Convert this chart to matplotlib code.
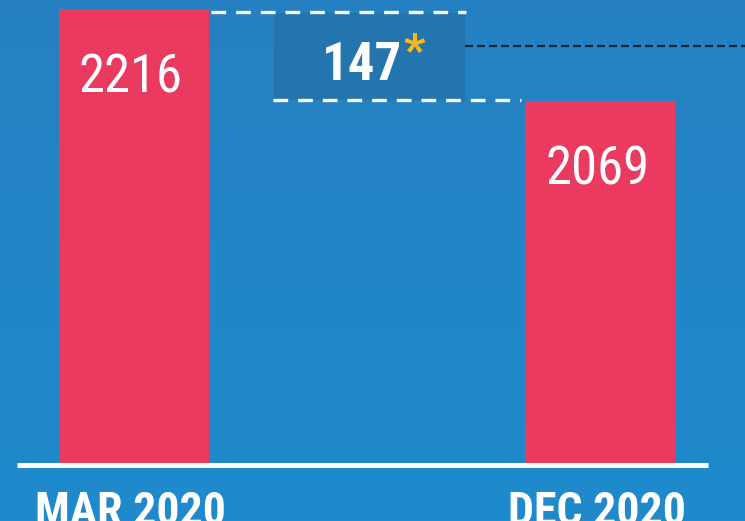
import numpy as np
import matplotlib
matplotlib.use("Agg")
import matplotlib.pyplot as plt
from matplotlib.colors import LinearSegmentedColormap
from matplotlib import font_manager

# ---- data ----
categories = ["MAR 2020", "DEC 2020"]
values = [2216, 2069]
difference_label = "147"

# ---- style ----
BG_TOP = "#2680C1"
BG_BOTTOM = "#1E8BCC"
BAR = "#EA3A60"
BOX = "#2475AE"
STAR = "#FDB913"

names = {f.name for f in font_manager.fontManager.ttflist}
cond = [n for n in ["Roboto Condensed", "Liberation Sans Narrow", "Open Sans Condensed"] if n in names]
FONT = cond + ["Roboto", "DejaVu Sans"]
is_cond = bool(cond)

fig = plt.figure(figsize=(7.45, 5.21), dpi=100)
ax = fig.add_axes([0, 0, 1, 1])
ax.set_axis_off()

base = 1490.6
xlim = (-0.2872, 1.3098)
ylim = (1397.9, 2230.4)
ax.set_xlim(*xlim)
ax.set_ylim(*ylim)

cmap = LinearSegmentedColormap.from_list("bg", [BG_BOTTOM, BG_TOP])
grad = np.linspace(0, 1, 256).reshape(-1, 1)
ax.imshow(grad, cmap=cmap, origin="lower", aspect="auto",
          extent=(*xlim, *ylim), zorder=0)

x = np.arange(len(categories))
heights = [v - base for v in values]
ax.bar(x, heights, bottom=base, width=0.3215, color=BAR, zorder=2)

ax.fill_between([0.300, 0.7095], values[1] + 2, 2209.6, color=BOX, zorder=1, lw=0)

dash_white = dict(color="white", lw=2.4, dashes=(4.4, 3.0), zorder=3,
                  solid_capstyle="butt", dash_capstyle="butt")
ax.plot([0.165, 0.712], [values[0] - 4, values[0] - 4], **dash_white)
ax.plot([0.298, 0.8296], [values[1] + 1, values[1] + 1], **dash_white)

ax.plot([0.7095, 1.31], [2157, 2157], color="#1B2735", lw=1.6,
        dashes=(3.6, 1.8), zorder=3)

ax.plot([-0.2508, 1.2305], [base - 4, base - 4], color="white", lw=3.6,
        solid_capstyle="butt", zorder=4)

val_fs = 38 if is_cond else 33
for xi, v in zip(x, values):
    ax.annotate(str(v), xy=(xi, v), xytext=(-3, -83), textcoords="offset pixels",
                ha="center", va="baseline", color="white", fontsize=val_fs,
                family=FONT, zorder=5)

diff_fs = 38 if is_cond else 33
ax.text(0.488, 2230.4 - 80 / 0.626, difference_label, ha="center", va="baseline",
        color="white", fontsize=diff_fs, fontweight="bold", family=FONT, zorder=5)
ax.text(0.600, 2230.4 - 66 / 0.626, "*", ha="center", va="baseline",
        color=STAR, fontsize=34, fontweight="bold", family=FONT, zorder=5)

cat_fs = 33 if is_cond else 29
for xi, c in zip(x, categories):
    ax.text(xi - 0.008, -0.0077, c, transform=ax.get_xaxis_transform(),
            ha="center", va="baseline", color="white", fontsize=cat_fs,
            fontweight="bold", family=FONT, zorder=5, clip_on=False)

fig.savefig("out.png", dpi=100)
